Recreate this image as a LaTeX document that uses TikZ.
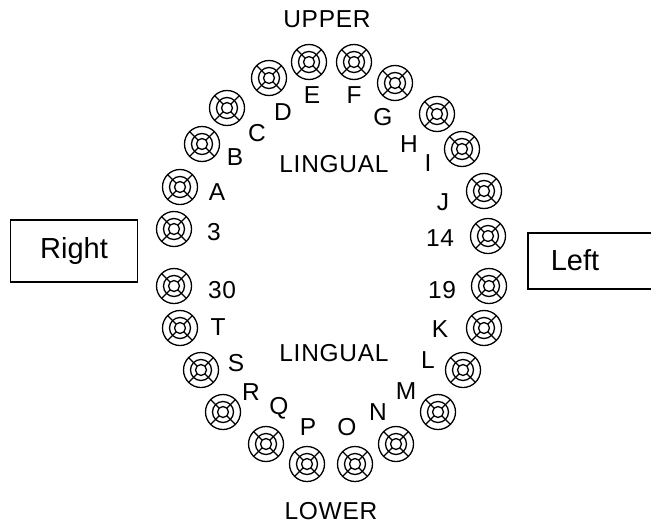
\documentclass[tikz,border=0pt]{standalone}
\usepackage{fontspec}
\setmainfont{Liberation Sans}
\newfontfamily\lblfont[LetterSpace=3]{Liberation Sans}
\begin{document}
\begin{tikzpicture}[x=1pt,y=-1pt,
  lbl/.style={inner sep=0pt, font=\lblfont\fontsize{24.5}{27}\selectfont},
  boxtxt/.style={font=\fontsize{29}{32}\selectfont},
  tooth/.pic={
    \draw[line width=1.3pt] (0,0) circle (17.5pt);
    \draw[line width=1.3pt] (0,0) circle (10.5pt);
    \draw[line width=1.3pt] (0,0) circle (5.5pt);
    \foreach \a in {45,135,225,315}
      \draw[line width=1.3pt] (\a:5.5pt) -- (\a:17.5pt);
  }]
\useasboundingbox (0,0) rectangle (652,525);
% teeth: name, centre, label, label position
\foreach \n/\cx/\cy/\t/\lx/\ly in {
  E/309/62/E/312/95, F/354/62/F/354/95,
  D/269/78/D/283/112, G/395/83/G/383/117,
  C/227/108/C/257/133, H/437/114/H/409/144,
  B/202/144/B/235/157, I/462/149/I/428/163,
  A/180/187/A/217/192, J/484/191/J/443/202,
  t3/174/229/3/214/232, t14/488/236/14/440/238,
  t30/174/286/30/222/290, t19/489/286/19/442/290,
  T/180/328/T/218/327, K/484/328/K/440/329,
  S/201/370/S/236/363, L/463/370/L/428/360,
  R/223/412/R/251/392, M/438/412/M/406/391,
  Q/266/444/Q/279/408, N/396/444/N/378/412,
  P/307/464/P/308/427, O/355/464/O/347/427}
{
  \pic at (\cx,\cy) {tooth};
  \coordinate (c\n) at (\cx,\cy);
  \node[lbl] (l\n) at (\lx,\ly) {\t};
}
\node[lbl] (upper) at (327,19) {UPPER};
\node[lbl] (lower) at (331,511) {LOWER};
\node[lbl] (ling1) at (334,164) {LINGUAL};
\node[lbl] (ling2) at (334,353) {LINGUAL};
\node[draw, line width=1.2pt, boxtxt, minimum width=127pt, minimum height=62pt] (right) at (74,251) {Right};
\node[boxtxt] (left) at (575,260) {Left};
\draw[line width=1.2pt] (651.4,233) -- (528,233) -- (528,289) -- (651.4,289);
\end{tikzpicture}
\end{document}
